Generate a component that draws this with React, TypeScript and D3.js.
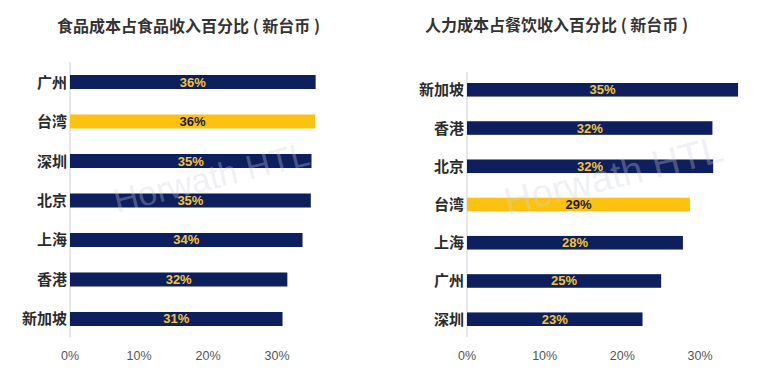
import React from "react";
import * as d3 from "d3";

const leftTitle = "食品成本占食品收入百分比 ( 新台币 )";
const leftCities = ["广州", "台湾", "深圳", "北京", "上海", "香港", "新加坡"];
const leftValues = [35.6, 35.5, 35.0, 34.9, 33.7, 31.5, 30.8];

const rightTitle = "人力成本占餐饮收入百分比 ( 新台币 )";
const rightCities = ["新加坡", "香港", "北京", "台湾", "上海", "广州", "深圳"];
const rightValues = [34.9, 31.6, 31.7, 28.7, 27.8, 25.0, 22.6];

const tickValues = [0, 10, 20, 30];
const highlight = "台湾";
const watermark = "Horwath HTL";

const NAVY = "#0e1f5e";
const GOLD = "#fcc20f";
const LABEL_GOLD = "#f3c531";
const FONT = "'Noto Sans CJK SC', 'Noto Sans', sans-serif";
const NUMFONT = "'Liberation Sans', Arial, sans-serif";

type PanelProps = {
  title: string;
  titleX: number;
  titleY: number;
  cities: string[];
  values: number[];
  x0: number;
  x30: number;
  yTop: number;
  yBottom: number;
  axisTop: number;
  labelRight: number;
  wmX: number;
  wmY: number;
  wmSize: number;
};

function Panel(p: PanelProps) {
  const x = d3.scaleLinear().domain([0, 30]).range([p.x0, p.x30]);
  const y = d3
    .scaleBand<string>()
    .domain(p.cities)
    .range([p.yTop, p.yBottom])
    .paddingInner(0.645)
    .paddingOuter(0);
  const bw = y.bandwidth();
  return (
    <g>
      <text
        x={p.titleX}
        y={p.titleY}
        fontFamily={FONT}
        fontWeight={700}
        fontSize={16}
        fill="#333"
      >
        {p.title}
      </text>
      <line
        x1={p.x0}
        x2={p.x0}
        y1={p.axisTop}
        y2={337}
        stroke="#d3d7df"
        strokeWidth={1.2}
      />
      {p.cities.map((c, i) => {
        const yy = y(c) as number;
        const isH = c === highlight;
        const v = p.values[i];
        const cx = (x(0) + x(v)) / 2;
        return (
          <g key={c}>
            <rect
              x={x(0)}
              y={yy}
              width={x(v) - x(0)}
              height={bw}
              fill={isH ? GOLD : NAVY}
            />
            <text
              x={p.labelRight}
              y={yy + bw / 2 + 5.5}
              textAnchor="end"
              fontFamily={FONT}
              fontWeight={700}
              fontSize={15}
              fill="#2b2b2b"
            >
              {c}
            </text>
            <text
              x={cx}
              y={yy + bw / 2 + 4.5}
              textAnchor="middle"
              fontFamily={NUMFONT}
              fontWeight={700}
              fontSize={13}
              fill={isH ? "#1a1a2a" : LABEL_GOLD}
            >
              {Math.round(v) + "%"}
            </text>
          </g>
        );
      })}
      {tickValues.map((t) => (
        <text
          key={t}
          x={x(t)}
          y={360}
          textAnchor="middle"
          fontFamily={NUMFONT}
          fontSize={12.5}
          fill="#555"
        >
          {t + "%"}
        </text>
      ))}
      <text
        x={p.wmX}
        y={p.wmY}
        transform={`rotate(-14 ${p.wmX} ${p.wmY})`}
        fontFamily={NUMFONT}
        fontSize={p.wmSize}
        fill="rgba(205,209,220,0.32)"
      >
        {watermark}
      </text>
    </g>
  );
}

export default function App() {
  return (
    <svg
      width={771}
      height={373}
      style={{ position: "absolute", left: 0, top: 0, background: "#fff" }}
    >
      <rect width={771} height={373} fill="#fff" />
      <Panel
        title={leftTitle}
        titleX={57}
        titleY={32}
        cities={leftCities}
        values={leftValues}
        x0={70}
        x30={277}
        yTop={75}
        yBottom={326}
        axisTop={62}
        labelRight={67}
        wmX={117}
        wmY={213}
        wmSize={34}
      />
      <Panel
        title={rightTitle}
        titleX={425}
        titleY={31}
        cities={rightCities}
        values={rightValues}
        x0={467}
        x30={700}
        yTop={83}
        yBottom={326}
        axisTop={72}
        labelRight={464}
        wmX={508}
        wmY={215}
        wmSize={38}
      />
    </svg>
  );
}
